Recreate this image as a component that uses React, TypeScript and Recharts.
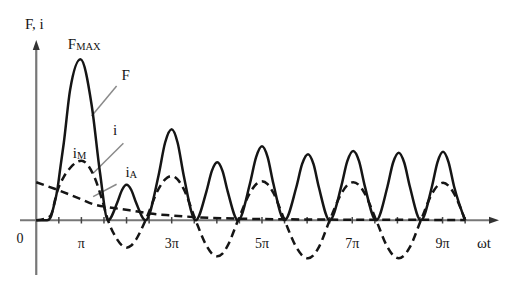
import React from "react";
import {
  LineChart,
  Line,
  XAxis,
  YAxis,
  ReferenceLine,
  ReferenceDot,
} from "recharts";

// ωt in multiples of π, values in relative units (F_MAX = 100)
const fT = [
  0, 0.24, 0.32, 0.39, 0.465, 0.54, 0.61, 0.75, 0.98, 1.23, 1.41, 1.59,
  1.795, 1.9, 2.0, 2.105, 2.21, 2.42,
  2.71, 2.855, 3.0, 3.13, 3.265, 3.53,
  3.77, 3.89, 4.01, 4.125, 4.24, 4.47,
  4.735, 4.87, 5.0, 5.125, 5.25, 5.5,
  5.76, 5.89, 6.02, 6.14, 6.26, 6.5,
  6.76, 6.89, 7.02, 7.15, 7.275, 7.53,
  7.78, 7.905, 8.03, 8.15, 8.275, 8.52,
  8.765, 8.89, 9.01, 9.13, 9.255, 9.5,
];
const fVal = [
  0, 0, 2, 9, 18.6, 34, 48, 81, 100, 71, 30, 0,
  11, 18.8, 22, 18.8, 11, 0,
  28, 48.3, 56.5, 48.3, 28, 0,
  18, 30.7, 36, 30.7, 18, 0,
  23, 39.3, 46, 39.3, 23, 0,
  20.5, 35, 41, 35, 20.5, 0,
  21.5, 36.7, 43, 36.7, 21.5, 0,
  21, 35.9, 42, 35.9, 21, 0,
  21, 36.3, 42.5, 36.3, 21, 0,
];

const iT = [
  0, 0.24, 0.32, 0.465, 0.61, 0.75, 1.0, 1.27, 1.45, 1.59,
  1.795, 1.9, 2.0, 2.105, 2.21, 2.42,
  2.71, 2.855, 3.0, 3.13, 3.265, 3.53,
  3.77, 3.89, 4.01, 4.125, 4.24, 4.47,
  4.735, 4.87, 5.0, 5.125, 5.25, 5.5,
  5.76, 5.89, 6.02, 6.14, 6.26, 6.5,
  6.76, 6.89, 7.02, 7.15, 7.275, 7.53,
  7.78, 7.905, 8.03, 8.15, 8.275, 8.52,
  8.765, 8.89, 9.01, 9.13, 9.255, 9.5,
];
const iVal = [
  0, 1.5, 3, 18, 27, 32.5, 37, 28, 13.7, 0,
  -12, -15.7, -17, -15.7, -12, 0,
  19.5, 25.4, 27.5, 25.4, 19.5, 0,
  -15.8, -20.7, -22.4, -20.7, -15.8, 0,
  17.1, 22.4, 24.2, 22.4, 17.1, 0,
  -16.7, -21.8, -23.6, -21.8, -16.7, 0,
  16.7, 21.8, 23.6, 21.8, 16.7, 0,
  -16.7, -21.8, -23.6, -21.8, -16.7, 0,
  16.5, 21.5, 23.3, 21.5, 16.5, 0,
];

// aperiodic component i_A
const aT = [0, 0.5, 1.0, 1.26, 1.63, 2.07, 2.52, 3.0, 3.55, 4.5, 6.0, 8.0, 9.5];
const aVal = [23.6, 18.6, 13, 10, 8, 6.2, 4.2, 3, 1.9, 1, 0.5, 0.3, 0.2];

const minorTicks = [0.5, 1, 1.5, 2, 2.5, 3, 3.5, 4, 4.5, 5, 5.5, 6, 6.5, 7, 7.5, 8, 8.5, 9, 9.5];
const tickPos = [1, 3, 5, 7, 9];
const tickText = ["π", "3π", "5π", "7π", "9π"];

const fData = fT.map((t, k) => ({ t, v: fVal[k] }));
const iData = iT.map((t, k) => ({ t, v: iVal[k] }));
const aData = aT.map((t, k) => ({ t, v: aVal[k] }));

// text labels: position in chart units, main text, subscript
const labels = [
  { t: -0.25, v: 118.6, text: "F, i", sub: "" },
  { t: 0.7, v: 106.4, text: "F", sub: "MAX" },
  { t: 1.89, v: 87.1, text: "F", sub: "" },
  { t: 1.7, v: 53, text: "i", sub: "" },
  { t: 0.81, v: 38.7, text: "i", sub: "M" },
  { t: 1.975, v: 26.9, text: "i", sub: "A" },
  { t: 9.76, v: -17.2, text: "ωt", sub: "" },
];

// leader lines from labels to curves
const leaders = [
  [{ x: 1.227, y: 64.8 }, { x: 1.78, y: 83.4 }],
  [{ x: 1.26, y: 29.2 }, { x: 1.93, y: 47.8 }],
  [{ x: 1.26, y: 14.7 }, { x: 1.78, y: 22.4 }],
];

const FONT = '"Liberation Serif"';
const INK = "#151515";

const Arrow = (props: any) => {
  const { x1, y1, x2, y2 } = props;
  const dx = x2 - x1;
  const dy = y2 - y1;
  const len = Math.sqrt(dx * dx + dy * dy) || 1;
  const ux = dx / len;
  const uy = dy / len;
  const bx = x2 - ux * 10;
  const by = y2 - uy * 10;
  const pts = `${x2},${y2} ${bx - uy * 3.5},${by + ux * 3.5} ${bx + uy * 3.5},${by - ux * 3.5}`;
  return (
    <g>
      <line x1={x1} y1={y1} x2={bx} y2={by} stroke="#777" strokeWidth={2.2} />
      <polygon points={pts} fill="#333" />
    </g>
  );
};

const makeLabel = (text: string, sub: string, anchor = "start", size = 15) =>
  (p: any) => (
    <text
      x={p.cx}
      y={p.cy}
      textAnchor={anchor}
      style={{ fontFamily: FONT, fontSize: size, fill: INK }}
    >
      {text}
      {sub ? (
        <tspan style={{ fontSize: 10.5 }} dy={1}>
          {sub}
        </tspan>
      ) : null}
    </text>
  );

export default function App() {
  return (
    <div
      style={{
        position: "absolute",
        left: 0,
        top: 0,
        background: "#fff",
        fontFamily: FONT,
      }}
    >
      <LineChart
        width={521}
        height={290}
        margin={{ top: 40, right: 22, bottom: 15, left: 20 }}
      >
        <XAxis
          type="number"
          dataKey="t"
          domain={[-0.36, 10.25]}
          allowDataOverflow
          hide
        />
        <YAxis type="number" domain={[-34, 112]} allowDataOverflow hide />

        <ReferenceLine
          segment={[{ x: 0, y: -34 }, { x: 0, y: 112 }]}
          shape={Arrow}
        />
        <ReferenceLine
          segment={[{ x: -0.36, y: 0 }, { x: 10.25, y: 0 }]}
          shape={Arrow}
        />
        {minorTicks.map((t) => (
          <ReferenceLine
            key={"mt" + t}
            segment={[{ x: t, y: -2 }, { x: t, y: 2 }]}
            stroke="#444"
            strokeWidth={1.5}
          />
        ))}
        {leaders.map((seg, k) => (
          <ReferenceLine
            key={"ld" + k}
            segment={seg}
            stroke="#8a8a8a"
            strokeWidth={1.5}
          />
        ))}

        <Line
          data={aData}
          dataKey="v"
          type="monotone"
          stroke={INK}
          strokeWidth={2.5}
          strokeDasharray="8 5"
          dot={false}
          isAnimationActive={false}
        />
        <Line
          data={iData}
          dataKey="v"
          type="monotone"
          stroke={INK}
          strokeWidth={2.5}
          strokeDasharray="8 5"
          dot={false}
          isAnimationActive={false}
        />
        <Line
          data={fData}
          dataKey="v"
          type="monotone"
          stroke={INK}
          strokeWidth={2.5}
          dot={false}
          isAnimationActive={false}
        />

        {tickPos.map((t, k) => (
          <ReferenceDot
            key={"tl" + t}
            x={t}
            y={-17.2}
            ifOverflow="visible"
            shape={makeLabel(tickText[k], "", "middle", 14)}
          />
        ))}
        <ReferenceDot
          x={-0.36}
          y={-14.1}
          ifOverflow="visible"
          shape={makeLabel("0", "", "middle", 14)}
        />
        {labels.map((l, k) => (
          <ReferenceDot
            key={"lb" + k}
            x={l.t}
            y={l.v}
            ifOverflow="visible"
            shape={makeLabel(l.text, l.sub)}
          />
        ))}
      </LineChart>
    </div>
  );
}
